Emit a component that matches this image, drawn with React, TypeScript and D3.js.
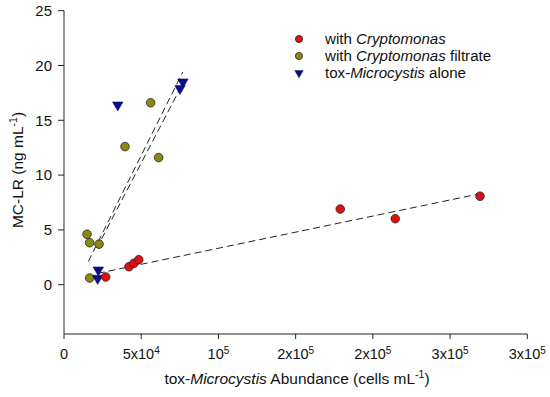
import React from "react";
import * as d3 from "d3";

const redX = [27000, 42100, 45300, 48400, 178900, 214500, 269400];
const redY = [0.7, 1.64, 1.95, 2.28, 6.9, 6.02, 8.07];
const oliveX = [16600, 14900, 16600, 22700, 39500, 56100, 61300];
const oliveY = [0.61, 4.6, 3.83, 3.7, 12.6, 16.6, 11.6];
const blueX = [21800, 22200, 34800, 75100, 77000];
const blueY = [0.58, 1.34, 16.4, 17.9, 18.5];

// regression lines: [x0, y0, x1, y1]
const redFit = [21800, 1.03, 269400, 8.3];
const fitA = [15700, 2.1, 76900, 19.4];
const fitB = [24300, 4.17, 75400, 17.95];

const yTicks = [0, 5, 10, 15, 20, 25];
const xTicks = [0, 50000, 100000, 150000, 200000, 250000, 300000];
const xTickBase = ["0", "5x10", "10", "2x10", "2x10", "3x10", "3x10"];
const xTickExp = ["", "4", "5", "5", "5", "5", "5"];

const legendLabels = [
  ["with ", "Cryptomonas", ""],
  ["with ", "Cryptomonas", " filtrate"],
  ["tox-", "Microcystis", " alone"],
];

const RED = "#e01010";
const OLIVE = "#8a8a12";
const BLUE = "#0a0a8a";

export default function App() {
  const x = d3.scaleLinear().domain([0, 300000]).range([64, 527.3]);
  const y = d3.scaleLinear().domain([-4.5, 25]).range([334, 10.7]);
  const tri = d3.symbol(d3.symbolTriangle, 48)() as string;
  const triSmall = d3.symbol(d3.symbolTriangle, 30)() as string;
  const font = "'Liberation Sans', Arial, sans-serif";
  const line = (f: number[]) => (
    <line x1={x(f[0])} y1={y(f[1])} x2={x(f[2])} y2={y(f[3])} stroke="#222" strokeWidth={1} strokeDasharray="7,4" />
  );
  const ly = (i: number) => 39 + i * 17;
  return (
    <svg width={550} height={397} style={{ position: "absolute", left: 0, top: 0, background: "#fff" }} fontFamily={font}>
      {/* axes */}
      <line x1={64} x2={64} y1={y(25)} y2={334} stroke="#222" />
      <line x1={64} x2={x(300000)} y1={334} y2={334} stroke="#222" />
      {yTicks.map((t) => (
        <g key={t}>
          <line x1={58} x2={64} y1={y(t)} y2={y(t)} stroke="#222" />
          <text x={52} y={y(t)} dy="0.35em" textAnchor="end" fontSize={15} fill="#111">{t}</text>
        </g>
      ))}
      {xTicks.map((t, i) => (
        <g key={t}>
          <line x1={x(t)} x2={x(t)} y1={334} y2={339} stroke="#222" />
          <text x={x(t)} y={358.5} textAnchor="middle" fontSize={14.5} fill="#111">
            {xTickBase[i]}
            {xTickExp[i] && <tspan fontSize={10} dy={-5}>{xTickExp[i]}</tspan>}
          </text>
        </g>
      ))}
      {/* axis titles */}
      <text x={297} y={384} textAnchor="middle" fontSize={15.5} fill="#111">
        tox-<tspan fontStyle="italic">Microcystis</tspan> Abundance (cells mL<tspan fontSize={10.5} dy={-6}>-1</tspan><tspan dy={6}>)</tspan>
      </text>
      <text transform={`translate(23,170) rotate(-90)`} textAnchor="middle" fontSize={15.5} fill="#111">
        MC-LR (ng mL<tspan fontSize={10.5} dy={-6}>-1</tspan><tspan dy={6}>)</tspan>
      </text>
      {/* fit lines */}
      {line(redFit)}
      {line(fitA)}
      {line(fitB)}
      {/* points */}
      {oliveX.map((v, i) => (
        <circle key={"o" + i} cx={x(v)} cy={y(oliveY[i])} r={4.3} fill={OLIVE} stroke="#222" strokeWidth={0.8} />
      ))}
      {blueX.map((v, i) => (
        <path key={"b" + i} d={tri} transform={`translate(${x(v)},${y(blueY[i])}) rotate(180)`} fill={BLUE} stroke="#0a0a5a" strokeWidth={0.5} />
      ))}
      {redX.map((v, i) => (
        <circle key={"r" + i} cx={x(v)} cy={y(redY[i])} r={4.3} fill={RED} stroke="#222" strokeWidth={0.8} />
      ))}
      {/* legend */}
      <circle cx={299} cy={ly(0)} r={3.6} fill={RED} stroke="#222" strokeWidth={0.8} />
      <circle cx={299} cy={ly(1)} r={3.6} fill={OLIVE} stroke="#222" strokeWidth={0.8} />
      <path d={triSmall} transform={`translate(299,${ly(2)}) rotate(180)`} fill={BLUE} stroke="#0a0a5a" strokeWidth={0.5} />
      {legendLabels.map((l, i) => (
        <text key={i} x={325} y={ly(i)} dy="0.35em" fontSize={15.1} fill="#111">
          {l[0]}<tspan fontStyle="italic">{l[1]}</tspan>{l[2]}
        </text>
      ))}
    </svg>
  );
}
